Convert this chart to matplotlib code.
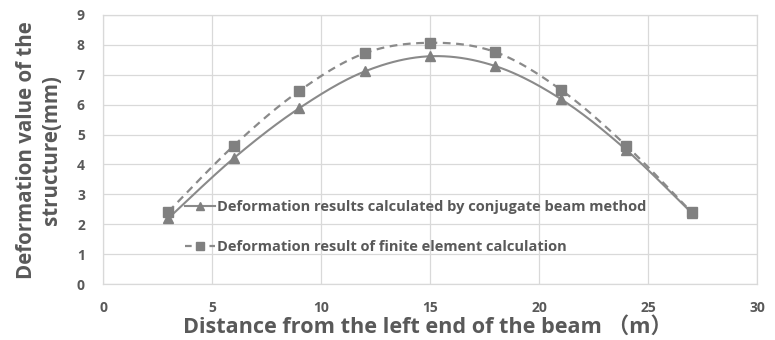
import numpy as np
import matplotlib
matplotlib.use('Agg')
import matplotlib.pyplot as plt

x_pos = [3, 6, 9, 12, 15, 18, 21, 24, 27]
conjugate = [2.2, 4.21, 5.88, 7.11, 7.62, 7.29, 6.19, 4.49, 2.38]
finite = [2.42, 4.63, 6.46, 7.72, 8.07, 7.76, 6.50, 4.63, 2.40]
series_labels = ["Deformation results calculated by conjugate beam method",
                 "Deformation result of finite element calculation"]
x_ticks = [0, 5, 10, 15, 20, 25, 30]
y_ticks = [0, 1, 2, 3, 4, 5, 6, 7, 8, 9]
x_label = "Distance from the left end of the beam （m）"
y_label = "Deformation value of the\nstructure(mm)"

FONT = ['Open Sans', 'Noto Sans CJK SC', 'DejaVu Sans']
plt.rcParams['font.family'] = FONT
TXT = '#595959'


def smooth(xs, ys, n=24):
    P = np.column_stack([xs, ys]).astype(float)
    P = np.vstack([P[0], P, P[-1]])
    out = []
    t = np.linspace(0, 1, n)[:, None]
    for i in range(1, len(P) - 2):
        p0, p1, p2, p3 = P[i - 1], P[i], P[i + 1], P[i + 2]
        c1 = p1 + (p2 - p0) / 6
        c2 = p2 - (p3 - p1) / 6
        seg = (1 - t) ** 3 * p1 + 3 * (1 - t) ** 2 * t * c1 + 3 * (1 - t) * t ** 2 * c2 + t ** 3 * p2
        out.append(seg if i == 1 else seg[1:])
    return np.vstack(out)


fig = plt.figure(figsize=(7.75, 3.4), dpi=100)
ax = fig.add_axes([103 / 775, 56 / 340, 654 / 775, 269 / 340])

c1 = smooth(x_pos, conjugate)
c2 = smooth(x_pos, finite)
ax.plot(c1[:, 0], c1[:, 1], color='#8a8a8a', lw=1.5, zorder=3)
ax.plot(c2[:, 0], c2[:, 1], color='#8a8a8a', lw=1.6, ls=(0, (3.5, 2.5)), zorder=3)
ax.plot(x_pos, conjugate, ls='none', marker='^', ms=6.5, color='#808080', zorder=4)
ax.plot(x_pos, finite, ls='none', marker='s', ms=6.5, color='#808080', zorder=4)

h1, = ax.plot([], [], color='#8a8a8a', lw=1.5, marker='^', ms=6, markerfacecolor='#808080', markeredgecolor='#808080')
h2, = ax.plot([], [], color='#8a8a8a', lw=1.6, ls=(0, (3, 2.5)), marker='s', ms=6, markerfacecolor='#808080', markeredgecolor='#808080')
leg = ax.legend([h1, h2], series_labels, loc='center left', bbox_to_anchor=(0.126, 0.212),
                frameon=False, handlelength=2.0, handletextpad=0.2, labelspacing=1.75,
                prop={'family': FONT, 'weight': 'bold', 'size': 10.5}, borderaxespad=0, borderpad=0)
for t in leg.get_texts():
    t.set_color(TXT)

ax.set_xlim(0, 30)
ax.set_ylim(0, 9)
ax.set_xticks(x_ticks)
ax.set_yticks(y_ticks)
ax.grid(True, color='#d9d9d9', lw=0.9)
ax.set_axisbelow(True)
for s in ax.spines.values():
    s.set_color('#d9d9d9')
    s.set_linewidth(0.9)
ax.tick_params(length=0, labelcolor=TXT, labelsize=10)
ax.tick_params(axis='x', pad=12)
ax.tick_params(axis='y', pad=13)
for lab in ax.get_xticklabels() + ax.get_yticklabels():
    lab.set_fontweight('bold')

fig.text(428 / 775, 2 / 340, x_label, ha='center', va='bottom', fontsize=15.6,
         fontweight='bold', color=TXT, family=FONT)
fig.text(39 / 775, 1 - 150 / 340, y_label, ha='center', va='center', rotation=90,
         fontsize=14.8, fontweight='bold', color=TXT, family=FONT, linespacing=1.2)

fig.savefig('out.png', dpi=100)
